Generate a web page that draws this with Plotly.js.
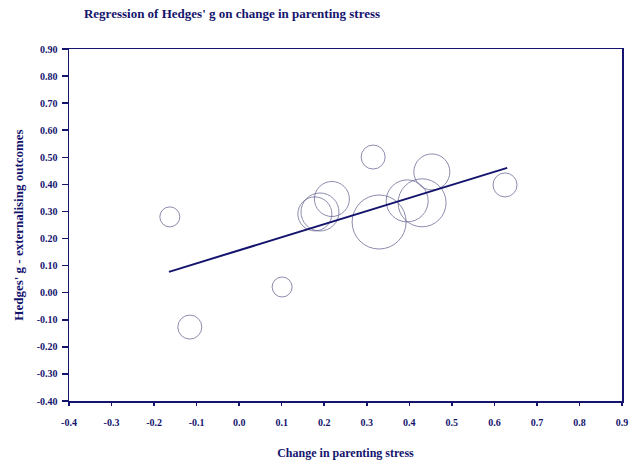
<!DOCTYPE html>
<html>
<head>
<meta charset="utf-8">
<script src="https://cdn.plot.ly/plotly-3.0.1.min.js"></script>
<style>html,body{margin:0;padding:0;background:#fff;}#chart{width:630px;height:474px;}</style>
</head>
<body>
<div id="chart"></div>
<script>
// Study points: change in parenting stress (x), Hedges' g (y), study weight (bubble diameter)
var stressChange = [-0.163, -0.116, 0.101, 0.178, 0.190, 0.218, 0.315, 0.329, 0.395, 0.430, 0.453, 0.625];
var hedgesG      = [ 0.280, -0.127, 0.021, 0.291, 0.298, 0.346, 0.501, 0.261, 0.339, 0.332, 0.446, 0.398];
var studyWeight  = [ 20, 24, 20, 34, 38, 35, 24, 54, 42, 48, 36, 24];

// Regression line end points
var lineX = [-0.165, 0.630];
var lineY = [0.077, 0.461];

// Tick labels
var xTickVals = [-0.4,-0.3,-0.2,-0.1,0.0,0.1,0.2,0.3,0.4,0.5,0.6,0.7,0.8,0.9];
var xTickText = ['-0.4','-0.3','-0.2','-0.1','0.0','0.1','0.2','0.3','0.4','0.5','0.6','0.7','0.8','0.9'];
var yTickVals = [-0.4,-0.3,-0.2,-0.1,0.0,0.1,0.2,0.3,0.4,0.5,0.6,0.7,0.8,0.9];
var yTickText = ['-0.40','-0.30','-0.20','-0.10','0.00','0.10','0.20','0.30','0.40','0.50','0.60','0.70','0.80','0.90'];

var navy = '#14146e';
var serif = 'Liberation Serif, Times New Roman, serif';

var traces = [
  {
    x: stressChange, y: hedgesG, mode: 'markers', type: 'scatter',
    marker: {size: studyWeight, sizemode: 'diameter', color: 'rgba(0,0,0,0)',
             line: {color: '#5c5c8c', width: 1}},
    hoverinfo: 'x+y', showlegend: false, cliponaxis: false
  },
  {
    x: lineX, y: lineY, mode: 'lines', type: 'scatter',
    line: {color: navy, width: 2}, showlegend: false
  }
];

var layout = {
  width: 630, height: 474,
  margin: {l: 69, r: 8, t: 49, b: 73},
  paper_bgcolor: '#ffffff', plot_bgcolor: '#ffffff',
  showlegend: false,
  title: {
    text: "<b>Regression of Hedges' g on change in parenting stress</b>",
    font: {family: serif, size: 13, color: navy},
    x: 232/630, xanchor: 'center', y: 1 - 13/474, yanchor: 'middle', xref: 'container', yref: 'container'
  },
  xaxis: {
    range: [-0.4, 0.9], tickmode: 'array', tickvals: xTickVals, ticktext: xTickText,
    showgrid: false, zeroline: false, showline: true, linecolor: navy, linewidth: 1.5,
    mirror: true, ticks: 'outside', ticklen: 3, tickcolor: navy, tickwidth: 1.5,
    ticklabelstandoff: 8,
    tickfont: {family: serif, size: 10, color: navy, weight: 'bold'},
    title: {text: '<b>Change in parenting stress</b>', font: {family: serif, size: 12, color: navy}, standoff: 22},
    fixedrange: true
  },
  yaxis: {
    range: [-0.4, 0.9], tickmode: 'array', tickvals: yTickVals, ticktext: yTickText,
    showgrid: false, zeroline: false, showline: true, linecolor: navy, linewidth: 1.5,
    mirror: true, ticks: 'outside', ticklen: 6, tickcolor: navy, tickwidth: 1.5,
    ticklabelstandoff: 2,
    tickfont: {family: serif, size: 10, color: navy, weight: 'bold'},
    title: {text: "<b>Hedges' g - externalising outcomes</b>", font: {family: serif, size: 13, color: navy}, standoff: 10},
    fixedrange: true
  }
};

Plotly.newPlot('chart', traces, layout, {displayModeBar: false, staticPlot: true});
</script>
</body>
</html>
